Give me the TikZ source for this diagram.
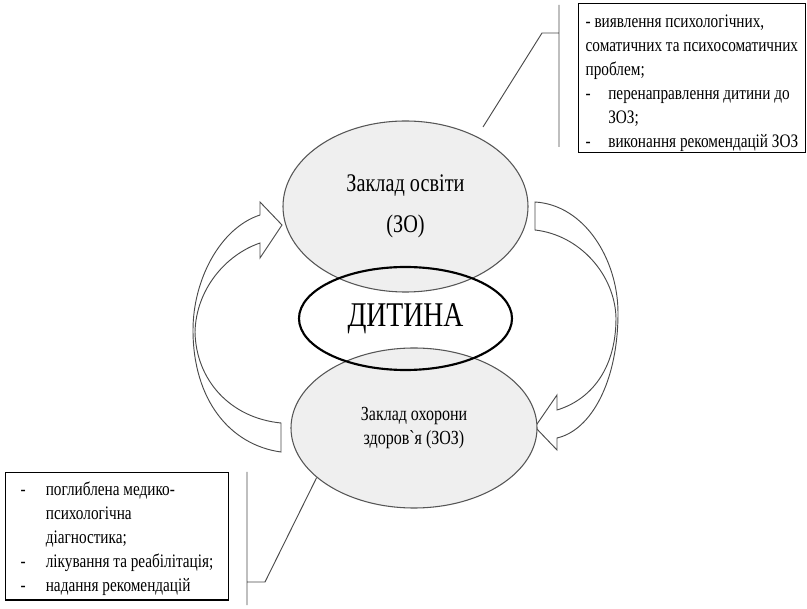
\documentclass[tikz,border=0pt]{standalone}
\usepackage{fontspec}
\setmainfont{Liberation Serif}[FakeStretch=0.8]
\usepackage{tikz}
\usepackage{xcolor}
\usetikzlibrary{shapes.geometric, positioning}

\definecolor{ellfill}{HTML}{EFEFEF}
\definecolor{ellline}{HTML}{555555}
\definecolor{arrline}{HTML}{4A4A4A}
\newcommand{\dashitem}[2]{\makebox[#1][l]{-}#2}

\begin{document}
\begin{tikzpicture}[x=0.75pt, y=-0.75pt,
  inst/.style={ellipse, draw=ellline, line width=0.8pt, fill=ellfill, inner sep=0pt, align=center},
  child/.style={ellipse, draw=black, line width=1.6pt, inner sep=0pt, minimum width=159.75pt, minimum height=77.25pt, font=\fontsize{26}{28}\selectfont},
  infobox/.style={rectangle, draw=black, line width=0.9pt, align=left, inner xsep=3.5pt, inner ysep=0.5pt, anchor=north west, font=\fontsize{14.3}{18}\selectfont},
  blockarrow/.style={draw=arrline, line width=0.7pt, fill=white},
  lead/.style={draw=arrline, line width=0.7pt}]

  \useasboundingbox (0,0) rectangle (807,609);

  % curved arrows between the institutions
  \path[blockarrow] (281,452) .. controls (230,445) and (193,400) .. (193,330)
    .. controls (193,280) and (220,228) .. (260,215) -- (260,202) -- (282,225) -- (260,258) -- (260,243)
    .. controls (225,255) and (196,290) .. (195,332)
    .. controls (196,380) and (230,418) .. (281,423) -- cycle;
  \path[blockarrow] (535,202) .. controls (585,205) and (618,260) .. (618,313)
    .. controls (618,380) and (592,430) .. (557,438) -- (557,450) -- (535,427) -- (557,395) -- (557,410)
    .. controls (590,400) and (616,370) .. (616,318)
    .. controls (615,275) and (580,235) .. (535,230) -- cycle;

  \node[inst, minimum width=183.75pt, minimum height=128.25pt, font=\fontsize{19}{31}\selectfont] (zo) at (405.5,206.5) {Заклад освіти\\(ЗО)};
  \node[inst, minimum width=184.5pt, minimum height=120pt, font=\fontsize{15}{17.5}\selectfont] (zoz) at (414,428) {Заклад охорони\\здоровˋя (ЗОЗ)};
  \node[child] (dytyna) at (405.5,318.5) {ДИТИНА};

  \node[infobox, minimum width=170pt] (boxzo) at (578,3)
    {\rule{0pt}{17.75pt}- виявлення психологічних,\\соматичних та психосоматичних\\проблем;\\
     \dashitem{17pt}{перенаправлення дитини до}\\\hspace*{17pt}ЗОЗ;\\
     \dashitem{17pt}{виконання рекомендацій ЗОЗ}};
  \node[infobox, minimum width=167pt] (boxzoz) at (5,472)
    {\rule{0pt}{16.5pt}\dashitem{19pt}{поглиблена медико-}\\\hspace*{19pt}психологічна\\\hspace*{19pt}діагностика;\\
     \dashitem{19pt}{лікування та реабілітація;}\\
     \dashitem{19pt}{надання рекомендацій}\rule[-6pt]{0pt}{6pt}};

  \coordinate (brzo1) at (559,5);
  \coordinate (brzo2) at (559,147);
  \coordinate (knzo1) at (559,33);
  \coordinate (knzo2) at (542,33);
  \coordinate (tipzo) at (483,127);
  \coordinate (brzoz1) at (247,472);
  \coordinate (brzoz2) at (247,605);
  \coordinate (knzoz1) at (247,582);
  \coordinate (knzoz2) at (265,582);

  \path[lead] (brzo1) -- (brzo2)
    (knzo1) -- (knzo2) -- (tipzo)
    (brzoz1) -- (brzoz2)
    (knzoz1) -- (knzoz2) -- (zoz.207);

\end{tikzpicture}
\end{document}
